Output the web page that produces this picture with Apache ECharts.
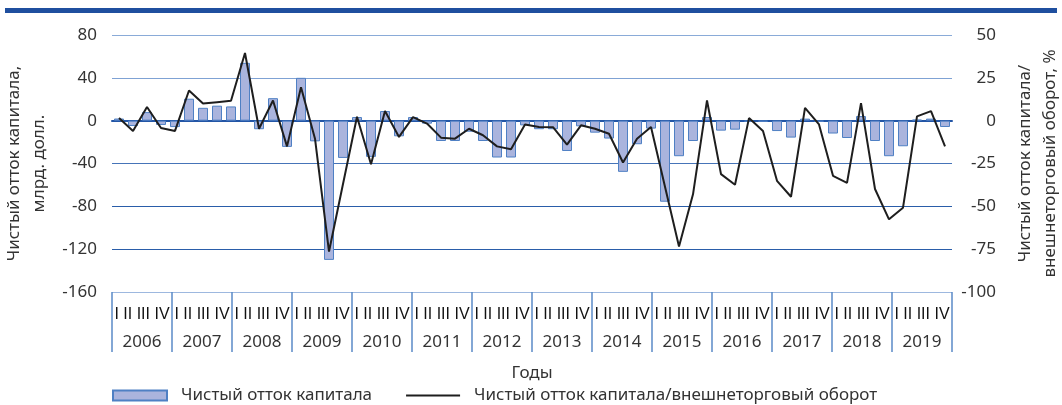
<!DOCTYPE html>
<html>
<head>
<meta charset="utf-8">
<title>Чистый отток капитала</title>
<script src="https://cdn.jsdelivr.net/npm/echarts@6/dist/echarts.min.js"></script>
<style>
html,body{margin:0;padding:0;background:#fff;}
#chart{width:1062px;height:405px;}
</style>
</head>
<body>
<div id="chart"></div>
<script>
// квартальные данные (на графике 60 столбцов, подписи таблицы - 2006-2019)
var dataYears = [2005,2006,2007,2008,2009,2010,2011,2012,2013,2014,2015,2016,2017,2018,2019];
var quarterLabels = ['I','II','III','IV'];
var yearLabels = ['2006','2007','2008','2009','2010','2011','2012','2013','2014','2015','2016','2017','2018','2019'];

// чистый отток капитала, млрд. долл.
var outflowBn = [
  2, -5, 8, -4,
  -6, 20.5, 12, 14,
  13.3, 54, -8, 21,
  -24.5, 40, -19.3, -130,
  -34.8, 3.4, -33.8, 9,
  -14.6, 3.4, -2.8, -19,
  -19, -10.3, -19, -34.4,
  -34.4, -4.4, -8, -8,
  -28.3, -5.3, -11.2, -16.7,
  -47.8, -22, -7.4, -75.7,
  -33.2, -19, 3.4, -9.3,
  -8.4, -1, -1, -9.7,
  -15.8, 1.9, -1, -12,
  -16.2, 4.3, -19, -33.2,
  -23.9, 1, 1.9, -5.9
];
// чистый отток капитала / внешнеторговый оборот, %
var outflowShare = [
  1.5, -6, 8, -4.3,
  -6, 17.6, 10, 10.8,
  11.6, 39.5, -4.7, 11.8,
  -15, 19.5, -10.5, -76.4,
  -37, 2.3, -25.4, 5.6,
  -9.5, 2.1, -1.7, -9.9,
  -10.5, -4.7, -8.5, -15,
  -16.7, -2.3, -3.7, -3.8,
  -14, -2.7, -4.7, -7.6,
  -24.4, -10.5, -3.7, -38.6,
  -73.5, -43, 11.8, -31.2,
  -37.4, 1.5, -6, -35.1,
  -44.4, 7.5, -2.2, -32.2,
  -36.3, 10.2, -39.9, -57.6,
  -50.8, 2.5, 5.6, -15
];

var periods = [];
for (var i = 0; i < dataYears.length; i++) {
  for (var q = 0; q < quarterLabels.length; q++) {
    periods.push(dataYears[i] + ' ' + quarterLabels[q]);
  }
}
// строка кварталов в каждой ячейке года
var quarterRow = yearLabels.map(function(){ return quarterLabels.join(' '); });

var FONT = 'Noto Sans';
var TXT = '#333333';

var chart = echarts.init(document.getElementById('chart'));
var option = {
  animation: false,
  backgroundColor: '#ffffff',
  textStyle: {fontFamily: FONT},
  graphic: [
    {type: 'rect', left: 5, top: 8, shape: {width: 1052, height: 5}, style: {fill: '#1f4f9f'}, silent: true}
  ],
  grid: {left: 112, right: 110, top: 35, bottom: 113, outerBoundsMode: 'none'},
  legend: {
    left: 112,
    top: 387,
    padding: 0,
    itemWidth: 54,
    itemHeight: 10,
    itemGap: 33,
    textStyle: {fontSize: 17, color: TXT, padding: [0, 0, 0, 9]},
    data: [
      {name: 'Чистый отток капитала', icon: 'rect'},
      {name: 'Чистый отток капитала/внешнеторговый оборот', itemStyle: {opacity: 0}}
    ]
  },
  xAxis: [
    {
      type: 'category',
      data: periods,
      position: 'bottom',
      axisLine: {onZero: true, lineStyle: {color: '#2356a6', width: 2}},
      axisTick: {show: false},
      axisLabel: {show: false}
    },
    {
      type: 'category',
      data: quarterRow,
      position: 'bottom',
      axisLine: {show: false, onZero: false},
      axisTick: {show: false},
      axisLabel: {interval: 0, margin: 15, fontSize: 16, fontFamily: 'Liberation Sans', color: '#111111'}
    },
    {
      type: 'category',
      data: yearLabels,
      position: 'bottom',
      name: 'Годы',
      nameLocation: 'middle',
      nameGap: 73,
      nameTextStyle: {fontSize: 17, color: TXT},
      axisLine: {show: false, onZero: false},
      axisTick: {show: true, interval: 0, length: 60, lineStyle: {color: '#5b8ac8', width: 1.5}},
      axisLabel: {interval: 0, margin: 42, fontSize: 17, color: TXT}
    }
  ],
  yAxis: [
    {
      type: 'value',
      min: -160,
      max: 80,
      interval: 40,
      position: 'left',
      name: 'Чистый отток капитала,\nмлрд. долл.',
      nameLocation: 'middle',
      nameGap: 57,
      nameRotate: 90,
      nameTextStyle: {fontSize: 17, color: TXT, lineHeight: 25, align: 'center'},
      axisLine: {show: false},
      axisTick: {show: false},
      axisLabel: {fontSize: 17, color: TXT, margin: 15},
      splitLine: {lineStyle: {color: ['#9db8df', '#2a5da9', '#2a5da9', '#4674b8', '#2356a6', '#7fa2d4', '#8aabd8'], width: 1}}
    },
    {
      type: 'value',
      min: -100,
      max: 50,
      interval: 25,
      position: 'right',
      name: 'Чистый отток капитала/\nвнешнеторговый оборот, %',
      nameLocation: 'middle',
      nameGap: 61,
      nameRotate: 90,
      nameTextStyle: {fontSize: 17, color: TXT, lineHeight: 25, align: 'center'},
      axisLine: {show: false},
      axisTick: {show: false},
      axisLabel: {fontSize: 17, color: TXT, margin: 44, align: 'right'},
      splitLine: {show: false}
    }
  ],
  series: [
    {
      name: 'Чистый отток капитала',
      type: 'bar',
      data: outflowBn,
      barWidth: 10,
      itemStyle: {color: '#aab4dd', borderColor: '#4f80c4', borderWidth: 1}
    },
    {
      name: 'Чистый отток капитала/внешнеторговый оборот',
      type: 'line',
      yAxisIndex: 1,
      data: outflowShare,
      symbol: 'none',
      z: 5,
      lineStyle: {color: '#1e1e1e', width: 2},
      itemStyle: {color: '#1e1e1e'}
    }
  ]
};
chart.setOption(option);
</script>
</body>
</html>
